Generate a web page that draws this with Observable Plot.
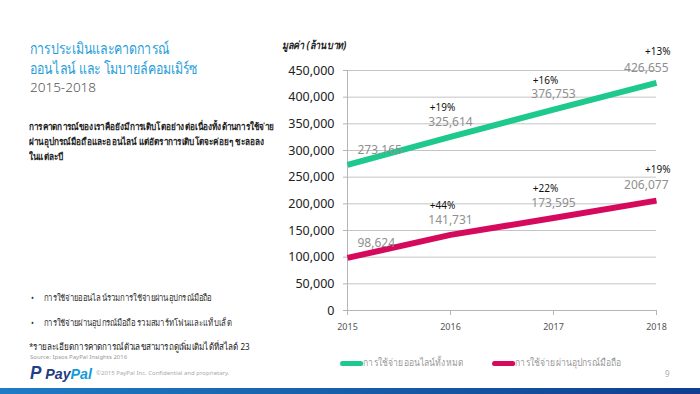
<!DOCTYPE html>
<html>
<head>
<meta charset="utf-8">
<script src="https://cdn.jsdelivr.net/npm/d3@7"></script>
<script src="https://cdn.jsdelivr.net/npm/@observablehq/plot@0.6"></script>
<style>
  html, body { margin: 0; padding: 0; background: #fff; }
  #page { position: relative; width: 700px; height: 394px; overflow: hidden; font-family: "Noto Sans", "DejaVu Sans", sans-serif; }
  #chart { position: absolute; left: 0; top: 0; }
  .abs { position: absolute; white-space: nowrap; transform-origin: 0 50%; }
  .title { left: 30px; color: #2a9ed8; font-size: 15.5px; line-height: 20px; transform: scaleX(0.8); }
  .years { left: 30px; top: 78px; color: #555; font-size: 13.5px; font-weight: 300; }
  .para { left: 29px; font-size: 9.5px; line-height: 14px; font-weight: bold; color: #222; transform: scaleX(0.86); }
  .bullet { left: 31px; font-size: 9px; color: #333; transform: scaleX(0.86); }
  .bullet span { display: inline-block; width: 15px; }
  .foot { left: 29px; top: 339px; font-size: 9.5px; color: #222; transform: scaleX(0.85); }
  .src { left: 30px; top: 353px; font-size: 6px; color: #999; }
  .logo { left: 30px; top: 363px; font-size: 15px; font-weight: bold; font-style: italic; color: #253b80; font-family: "Liberation Sans", sans-serif; transform: scaleX(0.95); }
  .copy { left: 96px; top: 369px; font-size: 6px; color: #aaa; }
  .pg { left: 665px; top: 368px; font-size: 8px; color: #aaa; }
  .ylab { left: 282px; top: 36px; font-size: 11px; font-style: italic; font-weight: bold; color: #222; transform: scaleX(0.82); }
  .bar { left: 0; top: 388px; width: 700px; height: 6px; background: linear-gradient(90deg, #1f7cc4, #0f3f8e); }
  .leg { top: 355px; font-size: 10px; color: #999; transform: scaleX(0.86); }
  .sw { display: inline-block; width: 27px; height: 5px; border-radius: 3px; vertical-align: middle; }
</style>
</head>
<body>
<div id="page">
  <div id="chart"></div>
  <div class="abs title" style="top:38px">การประเมินและคาดการณ์</div>
  <div class="abs title" style="top:58px">ออนไลน์ และ โมบายล์คอมเมิร์ซ</div>
  <div class="abs years">2015-2018</div>
  <div class="abs para" style="top:120px">การคาดการณ์ของเราคือยังมีการเติบโตอย่างต่อเนื่องทั้งด้านการใช้จ่าย</div>
  <div class="abs para" style="top:135px">ผ่านอุปกรณ์มือถือและออนไลน์ แต่อัตราการเติบโตจะค่อยๆ ชะลอลง</div>
  <div class="abs para" style="top:150px">ในแต่ละปี</div>
  <div class="abs bullet" style="top:291px"><span>•</span>การใช้จ่ายออนไลน์รวมการใช้จ่ายผ่านอุปกรณ์มือถือ</div>
  <div class="abs bullet" style="top:316px"><span>•</span>การใช้จ่ายผ่านอุปกรณ์มือถือ รวมสมาร์ทโฟนและแท็บเล็ต</div>
  <div class="abs foot">*รายละเอียดการคาดการณ์ตัวเลขสามารถดูเพิ่มเติมได้ที่สไลด์ 23</div>
  <div class="abs src">Source: Ipsos PayPal Insights 2016</div>
  <div class="abs logo"><span style="font-style:italic;font-size:18px;color:#1f3f8a;margin-right:4px">P</span>Pay<span style="color:#179bd7">Pal</span></div>
  <div class="abs copy">©2015 PayPal Inc. Confidential and proprietary.</div>
  <div class="abs pg">9</div>
  <div class="abs ylab">มูลค่า (ล้านบาท)</div>
  <div class="abs leg" id="leg1" style="left:340px"></div>
  <div class="abs leg" id="leg2" style="left:492px"></div>
  <div class="abs bar"></div>
</div>
<script>
const years = [2015, 2016, 2017, 2018];
const onlineTotal = [273165, 325614, 376753, 426655];
const mobileSpend = [98624, 141731, 173595, 206077];
const onlineGrowth = ["", "+19%", "+16%", "+13%"];
const mobileGrowth = ["", "+44%", "+22%", "+19%"];
const seriesNames = ["การใช้จ่ายออนไลน์ทั้งหมด", "การใช้จ่ายผ่านอุปกรณ์มือถือ"];
const seriesColors = ["#1ec98d", "#d60a5d"];
const yTicks = [0, 50000, 100000, 150000, 200000, 250000, 300000, 350000, 400000, 450000];

const rows = [];
years.forEach((yr, i) => {
  rows.push({year: yr, value: onlineTotal[i], growth: onlineGrowth[i], series: seriesNames[0], i});
  rows.push({year: yr, value: mobileSpend[i], growth: mobileGrowth[i], series: seriesNames[1], i});
});
const last = years.length - 1;
const fmt = d3.format(",");
const first = rows.filter(d => d.i === 0);
const mid = rows.filter(d => d.i > 0 && d.i < last);
const end = rows.filter(d => d.i === last);
const valStyle = {fill: "#8f8f8f", fontSize: 12, fontFamily: "Noto Sans, sans-serif"};
const pctStyle = {fill: "#111", fontSize: 10, fontFamily: "Noto Sans, sans-serif"};

const chart = Plot.plot({
  width: 700,
  height: 394,
  marginLeft: 347,
  marginRight: 44,
  marginTop: 70,
  marginBottom: 84,
  style: {fontFamily: "Noto Sans, sans-serif", background: "transparent"},
  x: {domain: [2015, 2018]},
  y: {domain: [0, 450000]},
  color: {domain: seriesNames, range: seriesColors},
  marks: [
    Plot.gridY(yTicks, {stroke: "#c4c4c4", strokeOpacity: 1, strokeWidth: 1}),
    Plot.ruleX([2015], {y1: 0, y2: 450000, stroke: "#b5b5b5"}),
    Plot.ruleY([0], {stroke: "#b5b5b5"}),
    Plot.axisY({ticks: yTicks, tickFormat: fmt, tickSize: 4, tickPadding: 9, fontSize: 12.5, fill: "#222", stroke: "#b5b5b5", label: null}),
    Plot.axisX({ticks: years, tickFormat: d => String(d), tickSize: 5, tickPadding: 8, fontSize: 9, fill: "#555", stroke: "#b5b5b5", label: null}),
    Plot.line(rows, {x: "year", y: "value", z: "series", stroke: "series", strokeWidth: 6, strokeLinecap: "butt"}),
    Plot.text(first, {x: "year", y: "value", text: d => fmt(d.value), textAnchor: "start", dx: 10, dy: -15, ...valStyle}),
    Plot.text(mid, {x: "year", y: "value", text: d => fmt(d.value), textAnchor: "middle", dy: -15, ...valStyle}),
    Plot.text(end, {x: "year", y: "value", text: d => fmt(d.value), textAnchor: "end", dx: 12, dy: -15, ...valStyle}),
    Plot.text(mid, {x: "year", y: "value", text: "growth", textAnchor: "middle", dx: -8, dy: -29, ...pctStyle}),
    Plot.text(end, {x: "year", y: "value", text: "growth", textAnchor: "end", dx: 14, dy: -31, ...pctStyle})
  ]
});
document.getElementById("chart").appendChild(chart);

[["leg1", 0], ["leg2", 1]].forEach(([id, k]) => {
  const el = document.getElementById(id);
  el.innerHTML = `<span class="sw" style="background:${seriesColors[k]}"></span>${seriesNames[k]}`;
});
</script>
</body>
</html>
